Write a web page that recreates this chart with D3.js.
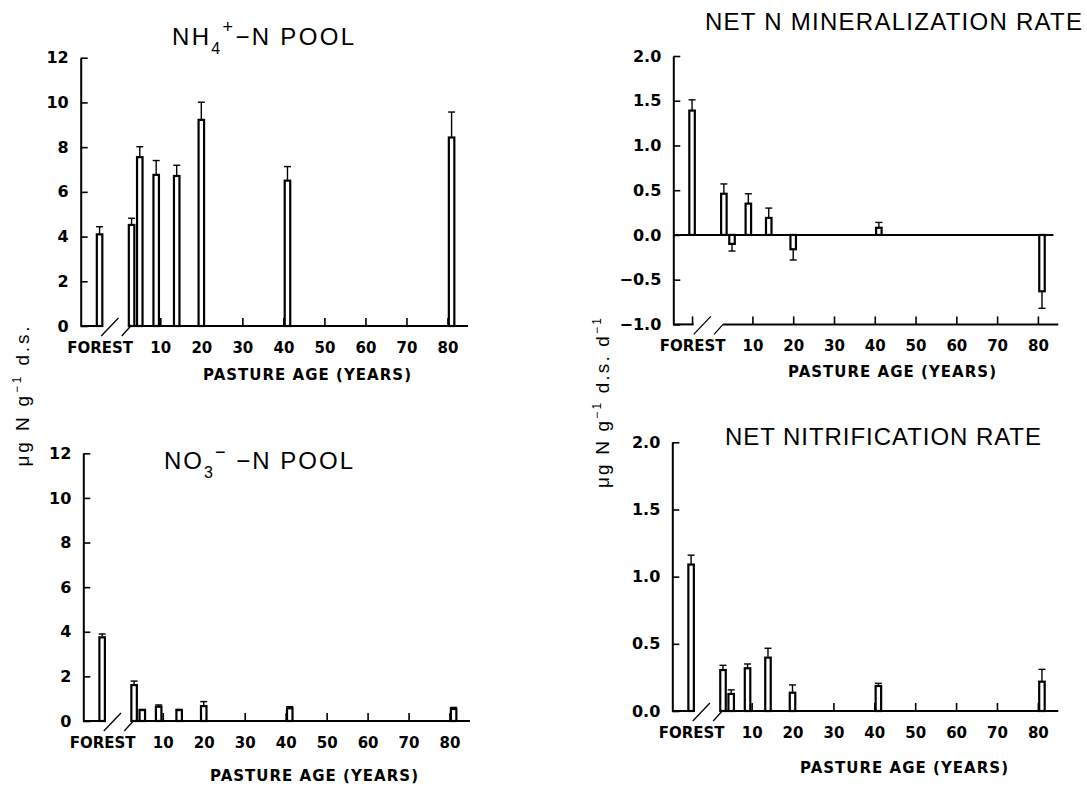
<!DOCTYPE html>
<html>
<head>
<meta charset="utf-8">
<script src="https://cdn.jsdelivr.net/npm/d3@7"></script>
<style>
  body { margin: 0; background: #fff; }
  svg { display: block; }
</style>
</head>
<body>
<svg id="chart" width="1087" height="787"></svg>
<script>
// sites: forest reference plus pasture ages (years)
const sites = ['FOREST', '3', '5', '9', '14', '20', '41', '81']
const sitePos = [-4.8, 3, 5, 9, 14, 20, 41, 81] // forest is drawn left of the axis break
const yearTicks = [10, 20, 30, 40, 50, 60, 70, 80]

// ug N / g d.s.
const nh4Mean = [4.10, 4.52, 7.55, 6.76, 6.71, 9.22, 6.50, 8.43]
const nh4Se = [0.34, 0.30, 0.47, 0.64, 0.48, 0.79, 0.63, 1.14]
const no3Mean = [3.75, 1.61, 0.49, 0.64, 0.49, 0.67, 0.57, 0.54]
const no3Se = [0.15, 0.18, 0.03, 0.08, 0.03, 0.20, 0.07, 0.07]
// ug N / g d.s. / d
const minMean = [1.39, 0.46, -0.10, 0.35, 0.19, -0.16, 0.08, -0.63]
const minSe = [0.12, 0.11, 0.08, 0.11, 0.11, 0.12, 0.06, 0.19]
const nitMean = [1.09, 0.305, 0.127, 0.318, 0.397, 0.136, 0.186, 0.218]
const nitSe = [0.07, 0.035, 0.03, 0.032, 0.07, 0.058, 0.02, 0.092]

const poolTicks = [0, 2, 4, 6, 8, 10, 12]
const rateTicks = [-1.0, -0.5, 0.0, 0.5, 1.0, 1.5, 2.0]
const rateTicksPos = [0.0, 0.5, 1.0, 1.5, 2.0]

const svg = d3.select('#chart')
const TICK_FONT = '"DejaVu Sans", sans-serif'
const TITLE_FONT = '"Liberation Sans", Arial, sans-serif'
const barW = 5.5

function fitWidth (sel, width) {
  const len = sel.node().getComputedTextLength()
  const n = sel.text().length
  sel.attr('letter-spacing', (width - len) / (n - 1))
}

function drawPanel (p) {
  const g = svg.append('g')
  const x = d3.scaleLinear().domain([-9.4, 85]).range([p.left, p.right])
  const y = d3.scaleLinear().domain(p.yDomain).range([p.bottom, p.top])
  const base = y(p.yDomain[0])

  // y axis, ticks pointing inward
  const yAxis = d3.axisLeft(y)
    .tickValues(p.yTicks)
    .tickSizeInner(-7)
    .tickSizeOuter(0)
    .tickPadding(12)
    .tickFormat(p.yFormat)
  const ya = g.append('g')
    .attr('transform', 'translate(' + p.left + ',0)')
    .call(yAxis)
  ya.select('.domain').attr('stroke-width', 2)
  ya.selectAll('.tick line').attr('stroke-width', 1.6)
  ya.selectAll('.tick text')
    .attr('font-family', TICK_FONT)
    .attr('font-weight', 'bold')
    .attr('font-size', 16)
    .text(d => d < 0 ? '\u2212' + p.yFormat(-d) : p.yFormat(d))

  // x axis with ticks up, domain replaced by a broken line
  const xAxis = d3.axisBottom(x)
    .tickValues([sitePos[0]].concat(yearTicks))
    .tickSizeInner(-8)
    .tickSizeOuter(0)
    .tickPadding(16)
    .tickFormat(d => d === sitePos[0] ? sites[0] : d)
  const xa = g.append('g')
    .attr('transform', 'translate(0,' + base + ')')
    .call(xAxis)
  xa.select('.domain').remove()
  xa.selectAll('.tick line').attr('stroke-width', 1.6)
  xa.selectAll('.tick text')
    .attr('font-family', TICK_FONT)
    .attr('font-weight', 'bold')
    .attr('font-size', 15)

  const line = d3.line()
  g.append('path')
    .attr('d', line([[x(-9.4), base], [x(-4.4), base]]))
    .attr('stroke', '#000').attr('stroke-width', 2).attr('fill', 'none')
  g.append('path')
    .attr('d', line([[x(2.8), base], [x(85), base]]))
    .attr('stroke', '#000').attr('stroke-width', 2).attr('fill', 'none')
  // break marks
  g.append('path')
    .attr('d', line([[x(-4.4), base + 10], [x(-0.2), base - 8]]))
    .attr('stroke', '#000').attr('stroke-width', 1.3).attr('fill', 'none')
  g.append('path')
    .attr('d', line([[x(0.6), base + 10], [x(2.8), base]]))
    .attr('stroke', '#000').attr('stroke-width', 1.3).attr('fill', 'none')

  if (p.zeroLine) {
    g.append('path')
      .attr('d', line([[x(-9.4), y(0)], [x(83.8), y(0)]]))
      .attr('stroke', '#000').attr('stroke-width', 2).attr('fill', 'none')
  }

  const rows = p.mean.map((v, i) => ({ pos: sitePos[i], v: v, se: p.se[i] }))

  // error bars
  const eb = g.append('g').attr('stroke', '#000').attr('stroke-width', 1.4)
  rows.forEach(d => {
    const end = d.v + (d.v < 0 ? -d.se : d.se)
    eb.append('line')
      .attr('x1', x(d.pos)).attr('x2', x(d.pos))
      .attr('y1', y(d.v)).attr('y2', y(end))
    eb.append('line')
      .attr('x1', x(d.pos) - 3.5).attr('x2', x(d.pos) + 3.5)
      .attr('y1', y(end)).attr('y2', y(end))
  })

  // bars
  g.append('g').selectAll('rect')
    .data(rows)
    .join('rect')
    .attr('x', d => x(d.pos) - barW / 2)
    .attr('width', barW)
    .attr('y', d => Math.min(y(0), y(d.v)))
    .attr('height', d => Math.abs(y(0) - y(d.v)))
    .attr('fill', '#fff')
    .attr('stroke', '#000')
    .attr('stroke-width', 2.2)

  // x axis title
  const xt = g.append('text')
    .attr('x', p.xTitle[0]).attr('y', p.xTitle[1])
    .attr('font-family', TICK_FONT)
    .attr('font-weight', 'bold')
    .attr('font-size', 15)
    .text('PASTURE AGE (YEARS)')
  fitWidth(xt, 208)

  // panel title
  const t = g.append('text')
    .attr('x', p.title.x).attr('y', p.title.y)
    .attr('font-family', TITLE_FONT)
    .attr('font-size', 24)
  p.title.parts.forEach(part => {
    t.append('tspan')
      .attr('font-size', part.size || null)
      .attr('dy', part.dy || null)
      .text(part.text)
  })
  fitWidth(t, p.title.w)
}

drawPanel({
  left: 80.7, right: 468, top: 57.7, bottom: 326,
  yDomain: [0, 12], yTicks: poolTicks, yFormat: d3.format('d'),
  mean: nh4Mean, se: nh4Se,
  xTitle: [203, 380],
  title: {
    x: 172, y: 45, w: 182,
    parts: [{ text: 'NH' }, { text: '4', size: 16, dy: 9 }, { text: '+', size: 18, dy: -21 }, { text: '\u2212N POOL', dy: 12 }]
  }
})

drawPanel({
  left: 83.3, right: 470, top: 453.3, bottom: 721,
  yDomain: [0, 12], yTicks: poolTicks, yFormat: d3.format('d'),
  mean: no3Mean, se: no3Se,
  xTitle: [210, 781],
  title: {
    x: 164, y: 469, w: 189,
    parts: [{ text: 'NO' }, { text: '3', size: 16, dy: 9 }, { text: '\u2212', size: 18, dy: -20 }, { text: ' \u2212N POOL', dy: 11 }]
  }
})

drawPanel({
  left: 673.3, right: 1058.3, top: 56, bottom: 324.4,
  yDomain: [-1, 2], yTicks: rateTicks, yFormat: d3.format('.1f'),
  mean: minMean, se: minSe, zeroLine: true,
  xTitle: [788, 377],
  title: { x: 705, y: 30, w: 377, parts: [{ text: 'NET N MINERALIZATION RATE' }] }
})

drawPanel({
  left: 672.3, right: 1058.3, top: 442.3, bottom: 711,
  yDomain: [0, 2], yTicks: rateTicksPos, yFormat: d3.format('.1f'),
  mean: nitMean, se: nitSe,
  xTitle: [800, 773],
  title: { x: 725, y: 445, w: 316, parts: [{ text: 'NET NITRIFICATION RATE' }] }
})

// shared y axis labels
function unitLabel (cx, cy, perDay, len) {
  const t = svg.append('text')
    .attr('transform', 'translate(' + cx + ',' + cy + ') rotate(-90)')
    .attr('text-anchor', 'middle')
    .attr('font-family', TITLE_FONT)
    .attr('font-size', 19)
  t.append('tspan').text('\u03bcg N g')
  t.append('tspan').attr('font-size', 12).attr('dy', -8).text('\u22121')
  t.append('tspan').attr('dy', 8).text(' d.s.')
  if (perDay) {
    t.append('tspan').text(' d')
    t.append('tspan').attr('font-size', 12).attr('dy', -8).text('\u22121')
  }
  fitWidth(t, len)
}
unitLabel(29, 395, false, 140)
unitLabel(609, 402, true, 170)
</script>
</body>
</html>
